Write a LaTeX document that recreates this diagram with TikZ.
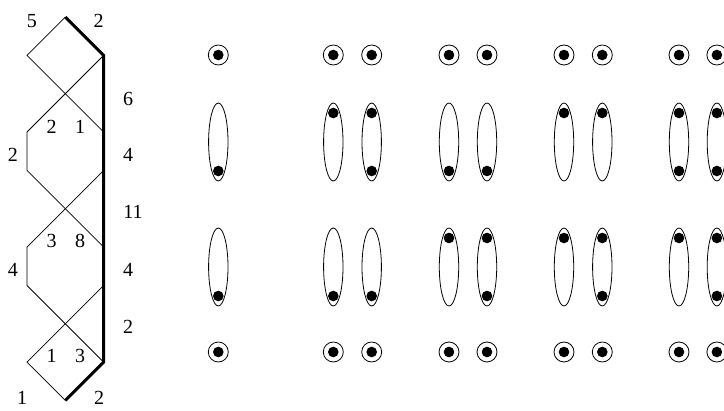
\documentclass[tikz,border=0pt]{standalone}
\usepackage{fontspec}
\setmainfont{Liberation Serif}
\usetikzlibrary{positioning}

\begin{document}
\begin{tikzpicture}[
    x=1pt, y=-1pt,
    num/.style={inner sep=0pt, font=\fontsize{20}{24}\selectfont},
    strand/.style={line width=0.8pt},
    heavy/.style={line width=3pt},
    pod/.style={line width=0.8pt},
    bead/.style={fill=black},
]
    \useasboundingbox (0,0) rectangle (724,411);
    \clip (0,0) rectangle (724,411);

    % strand diagram on a unit grid
    \begin{scope}[shift={(27,17)}, x=38.35pt, y=-38.35pt]
        \draw[strand] (1,0) -- (0,1) -- (2,3);
        \draw[strand] (2,1) -- (0,3) -- (0,4) -- (2,6);
        \draw[strand] (2,4) -- (0,6) -- (0,7) -- (2,9);
        \draw[strand] (2,7) -- (0,9) -- (1,10);
        \draw[heavy] (1,0) -- (2,1) -- (2,9) -- (1,10);
    \end{scope}

    % labels
    \node[num] (topL) at (32,21) {5};
    \node[num] (topR) at (98.5,21) {2};
    \node[num] (inA) at (51.5,127) {2};
    \node[num] (inB) at (80,127) {1};
    \node[num] (sideA) at (13,155) {2};
    \node[num] (segA) at (128,99) {6};
    \node[num] (segB) at (128,155) {4};
    \node[num] (segC) at (133,212) {11};
    \node[num] (inC) at (51.5,241) {3};
    \node[num] (inD) at (80,241) {8};
    \node[num] (sideB) at (13,270) {4};
    \node[num] (segD) at (128,270) {4};
    \node[num] (segE) at (128,327) {2};
    \node[num] (inE) at (51.5,356) {1};
    \node[num] (inF) at (80,356) {3};
    \node[num] (botL) at (22,398) {1};
    \node[num] (botR) at (99,398) {2};

    % columns of beads
    \foreach \cx/\at/\ab/\bt/\bb in {218.3/0/1/0/1, 333.3/1/0/0/1, 371.7/1/1/0/1,
                                    449/0/1/1/0, 487/0/1/1/1, 564/1/0/1/0,
                                    602.3/1/0/1/1, 679/1/1/1/0, 716.9/1/1/1/1} {
        \draw[pod] (\cx,55) circle [radius=10pt];
        \fill[bead] (\cx,55) circle [radius=5.3pt];
        \draw[pod] (\cx,142) ellipse [x radius=9.7pt, y radius=39pt];
        \draw[pod] (\cx,267) ellipse [x radius=9.7pt, y radius=39pt];
        \draw[pod] (\cx,352) circle [radius=10pt];
        \fill[bead] (\cx,352) circle [radius=5.3pt];
        \ifnum\at=1 \fill[bead] (\cx,113) circle [radius=5.3pt]; \fi
        \ifnum\ab=1 \fill[bead] (\cx,171) circle [radius=5.3pt]; \fi
        \ifnum\bt=1 \fill[bead] (\cx,238) circle [radius=5.3pt]; \fi
        \ifnum\bb=1 \fill[bead] (\cx,296) circle [radius=5.3pt]; \fi
    }
\end{tikzpicture}
\end{document}
